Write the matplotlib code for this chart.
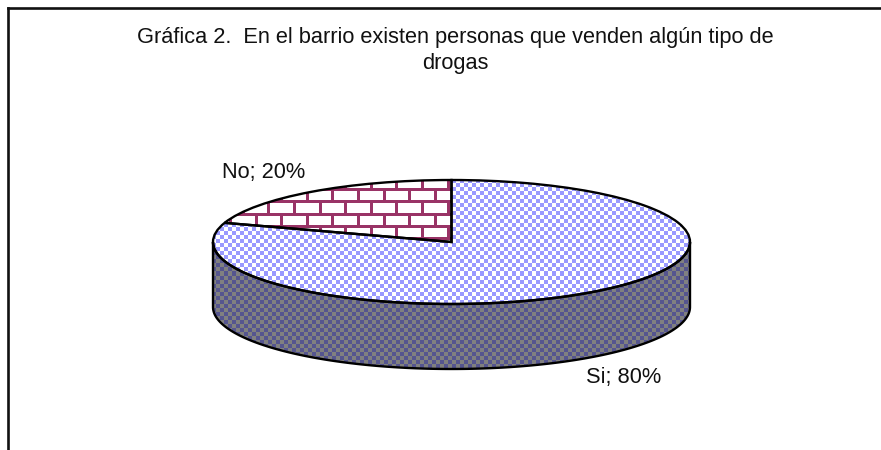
import numpy as np
import matplotlib
matplotlib.use("Agg")
import matplotlib.pyplot as plt
from matplotlib.patches import Polygon

categorias = ["No", "Si"]
valores = [20, 80]
titulo = "Gráfica 2.  En el barrio existen personas que venden algún tipo de\ndrogas"

plt.rcParams['font.family'] = ['Liberation Sans', 'DejaVu Sans']

ANCHO, ALTO = 881, 450
X0, X1 = 213, 690      # borde del pastel en pixeles
Y0, Y1 = 180, 369      # cara superior + pared
RADIO_Y = 62
PROF = (Y1 - Y0 - 2 * RADIO_Y) / RADIO_Y


def damero(color_a, color_b):
    # textura a cuadros de 4 px, alineada con los pixeles de la figura
    xx, yy = np.meshgrid(np.arange(X0, X1), np.arange(Y0, Y1))
    m = ((xx // 4 + yy // 4) % 2 == 0)
    img = np.zeros(m.shape + (3,))
    img[m] = matplotlib.colors.to_rgb(color_a)
    img[~m] = matplotlib.colors.to_rgb(color_b)
    return img


def ladrillos(color, fondo="white", alto=12.2, largo=25.6, grueso=3):
    xx, yy = np.meshgrid(np.arange(X0, X1), np.arange(Y0, Y1))
    fila = np.floor((yy - 176.5) / alto)
    en_h = ((yy - 176.5) % alto) < grueso
    desp = np.where(fila % 2 == 0, 0, largo / 2)
    en_v = ((xx - 420.5 + desp) % largo) < grueso
    m = en_h | en_v
    img = np.zeros(m.shape + (3,))
    img[m] = matplotlib.colors.to_rgb(color)
    img[~m] = matplotlib.colors.to_rgb(fondo)
    return img


fig = plt.figure(figsize=(ANCHO / 100, ALTO / 100), dpi=100)

# marco: solo arriba e izquierda
marco = fig.add_axes([8 / ANCHO, 0, (ANCHO - 8) / ANCHO, (ALTO - 7.5) / ALTO])
marco.set_xticks([])
marco.set_yticks([])
marco.spines['right'].set_visible(False)
marco.spines['bottom'].set_visible(False)
marco.spines['left'].set_linewidth(1.9)
marco.spines['top'].set_linewidth(1.9)
marco.spines['left'].set_color('#111111')
marco.spines['top'].set_color('#111111')

ax = fig.add_axes([X0 / ANCHO, 1 - Y1 / ALTO, (X1 - X0) / ANCHO, (Y1 - Y0) / ALTO])
wedges, _ = ax.pie(valores, startangle=90, colors=['none', 'none'],
                   wedgeprops={'edgecolor': 'black', 'linewidth': 1.7, 'zorder': 5})
ax.set_aspect('auto')
lims = (-1, 1, -1 - PROF, 1)

# pared lateral, sale de la mitad inferior de la elipse
t = np.linspace(np.pi, 2 * np.pi, 200)
xs = np.concatenate([np.cos(t), np.cos(t[::-1])])
ys = np.concatenate([np.sin(t), np.sin(t[::-1]) - PROF])
pared = Polygon(np.column_stack([xs, ys]), closed=True, facecolor='none',
                edgecolor='black', linewidth=1.7, zorder=4, clip_on=False)
ax.add_patch(pared)

im_pared = ax.imshow(damero('#55558F', '#808080'), extent=lims, aspect='auto',
                     interpolation='nearest', zorder=2)
im_pared.set_clip_path(pared)
im_si = ax.imshow(damero('#9999FF', '#FFFFFF'), extent=lims, aspect='auto',
                  interpolation='nearest', zorder=3)
im_si.set_clip_path(wedges[1])
im_no = ax.imshow(ladrillos('#993366'), extent=lims, aspect='auto',
                  interpolation='nearest', zorder=3)
im_no.set_clip_path(wedges[0])

ax.set_xlim(lims[0], lims[1])
ax.set_ylim(lims[2], lims[3])

fig.text(455 / ANCHO, 1 - 69 / ALTO, titulo, ha='center', va='baseline',
         fontsize=15.7, color='#111111', linespacing=1.3)
fig.text(222 / ANCHO, 1 - 178 / ALTO, f"{categorias[0]}; {valores[0]}%", ha='left', va='baseline',
         fontsize=15.7, color='#111111')
fig.text(586 / ANCHO, 1 - 383 / ALTO, f"{categorias[1]}; {valores[1]}%", ha='left', va='baseline',
         fontsize=15.7, color='#111111')

fig.savefig("out.png", dpi=100)
